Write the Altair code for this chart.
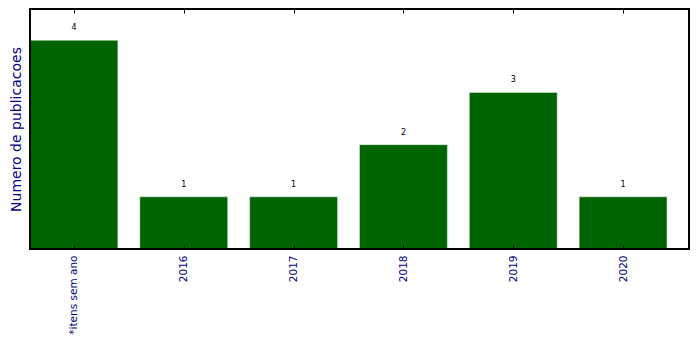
import altair as alt
import pandas as pd

categories = ["*itens sem ano", "2016", "2017", "2018", "2019", "2020"]
counts = [4, 1, 1, 2, 3, 1]

df = pd.DataFrame({
    "cat": categories,
    "n": counts,
    "idx": list(range(len(categories))),
})
df["x0"] = df["idx"] - 0.4
df["x1"] = df["idx"] + 0.4
df["zero"] = 0

label_expr = "[" + ",".join("'%s'" % c for c in categories) + "][datum.value]"

xscale = alt.Scale(domain=[-0.4, 5.6], nice=False, zero=False)
yscale = alt.Scale(domain=[0, 4.6], nice=False)

blue = "#00008b"

yaxis = alt.Axis(labels=False, ticks=False, domain=False, grid=False,
                 title="Numero de publicacoes", titleColor=blue,
                 titleFontSize=14, titleFont="DejaVu Sans",
                 titleFontWeight="normal", titlePadding=7)

base = alt.Chart(df)

bars = base.mark_bar(color="#006400", stroke="#e8efe8", strokeWidth=0.5).encode(
    x=alt.X("x0:Q", scale=xscale,
            axis=alt.Axis(orient="bottom", values=list(range(len(categories))),
                          labelExpr=label_expr, labelAngle=-90, labelAlign="right",
                          labelBaseline="middle", labelColor=blue, labelFontSize=10.5,
                          labelFont="DejaVu Sans", tickColor="black", tickSize=4,
                          offset=-4, labelPadding=6, domain=False, grid=False,
                          title=None, labelFlush=False, labelOverlap=False,
                          zindex=1)),
    x2="x1:Q",
    y=alt.Y("n:Q", scale=yscale, axis=yaxis, title="Numero de publicacoes"),
    y2="zero:Q",
)

top_ticks = base.mark_point(opacity=0).encode(
    x=alt.X("idx:Q", scale=xscale,
            axis=alt.Axis(orient="top", values=list(range(len(categories))),
                          labels=False, tickColor="black", tickSize=4, offset=-4,
                          domain=False, grid=False, title=None, zindex=1)),
    y=alt.Y("n:Q", scale=yscale, axis=yaxis, title="Numero de publicacoes"),
)

texts = base.mark_text(baseline="bottom", dy=-8, fontSize=8, font="DejaVu Sans",
                       color="black").encode(
    x=alt.X("idx:Q", scale=xscale, axis=None),
    y=alt.Y("n:Q", scale=yscale, axis=yaxis, title="Numero de publicacoes"),
    text="n:Q",
)

frame = base.mark_rect(fill=None, stroke="black", strokeWidth=1.5).encode(
    x=alt.value(0), x2=alt.value(659), y=alt.value(0), y2=alt.value(240)
)

chart = alt.layer(bars, top_ticks, texts, frame).resolve_axis(x="independent").properties(
    width=659, height=240,
    autosize=alt.AutoSizeParams(type="none"),
    padding={"left": 30, "top": 9, "right": 10, "bottom": 100},
).configure_view(stroke=None).configure(background="white")

chart.save("out.html", embed_options={"renderer": "svg", "actions": False})
